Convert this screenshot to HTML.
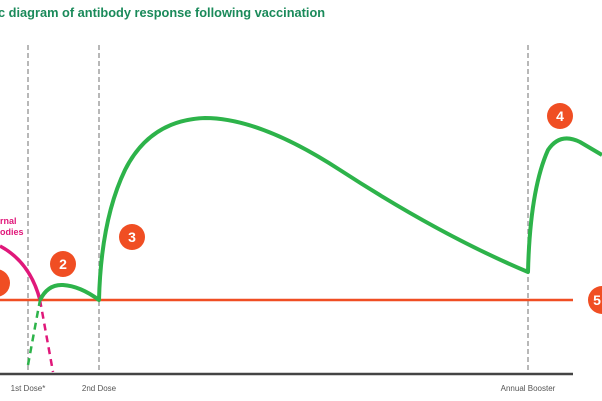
<!DOCTYPE html>
<html><head><meta charset="utf-8"><style>
body{margin:0;background:#fff;}
svg{display:block;font-family:"Liberation Sans",sans-serif;}
</style></head><body>
<svg width="602" height="401" viewBox="0 0 602 401">
<script>
const doseLabels=["1st Dose*","2nd Dose","Annual Booster"];
const dosePositions=[28,99,528];
</script>
<text x="-2" y="17" fill="#1a8a5a" font-size="12.8" font-weight="bold">c diagram of antibody response following vaccination</text>
<g stroke="#888" stroke-width="1.2" stroke-dasharray="5,3">
<line x1="28" y1="45" x2="28" y2="373"/>
<line x1="99" y1="45" x2="99" y2="373"/>
<line x1="528" y1="45" x2="528" y2="373"/>
</g>
<line x1="0" y1="374" x2="573" y2="374" stroke="#444" stroke-width="2.5"/>
<line x1="0" y1="300" x2="573" y2="300" stroke="#f04e23" stroke-width="2.5"/>
<path d="M0,246 Q30,262 40,300" fill="none" stroke="#e0187a" stroke-width="3.5"/>
<path d="M40,300 L53,372" fill="none" stroke="#e0187a" stroke-width="2.5" stroke-dasharray="7,5"/>
<path d="M28,365 L40,300" fill="none" stroke="#2db34a" stroke-width="2.5" stroke-dasharray="7,5"/>
<path d="M40,300 Q48,284 63,285 Q80,286 99,300 Q101,220 125,170 Q150,120 205,118 Q260,118 340,170 Q440,235 528,272 Q530,190 548,150 Q560,132 580,142 L602,155" fill="none" stroke="#2db34a" stroke-width="4" stroke-linejoin="round"/>
<text x="0" y="224" fill="#e0187a" font-size="9" font-weight="bold">rnal</text>
<text x="0" y="235" fill="#e0187a" font-size="9" font-weight="bold">odies</text>
<g fill="#f04e23">
<circle cx="-4" cy="283" r="14"/><circle cx="63" cy="264" r="13"/><circle cx="132" cy="237" r="13"/><circle cx="560" cy="116" r="13"/><circle cx="602" cy="300" r="14"/>
</g>
<g fill="#fff" font-size="14" font-weight="bold" text-anchor="middle">
<text x="63" y="269">2</text><text x="132" y="242">3</text><text x="560" y="121">4</text><text x="597" y="305">5</text>
</g>
<g fill="#555" font-size="8" text-anchor="middle">
<text x="28" y="391">1st Dose*</text><text x="99" y="391">2nd Dose</text><text x="528" y="391">Annual Booster</text>
</g>
</svg>
</body></html>
